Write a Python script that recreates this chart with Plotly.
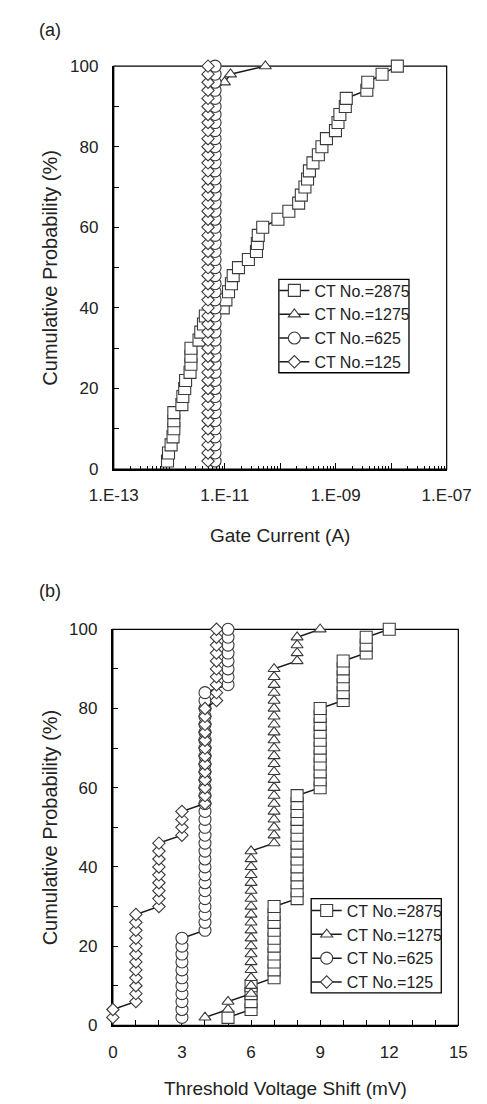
import plotly.graph_objects as go

# ---------------- data ----------------
series_names = ["CT No.=2875", "CT No.=1275", "CT No.=625", "CT No.=125"]

cum_prob = [2, 4, 6, 8, 10, 12, 14, 16, 18, 20, 22, 24, 26, 28, 30, 32, 34, 36, 38, 40,
            42, 44, 46, 48, 50, 52, 54, 56, 58, 60, 62, 64, 66, 68, 70, 72, 74, 76, 78, 80,
            82, 84, 86, 88, 90, 92, 94, 96, 98, 100]

# (a) gate current (A)
gate_2875 = [9.3e-13, 9.7e-13, 1.08e-12, 1.17e-12, 1.21e-12, 1.21e-12, 1.21e-12, 1.69e-12, 1.76e-12, 1.90e-12,
             1.97e-12, 2.37e-12, 2.46e-12, 2.46e-12, 2.46e-12, 3.44e-12, 3.70e-12, 4.14e-12, 4.47e-12, 9.4e-12,
             1.05e-11, 1.17e-11, 1.32e-11, 1.42e-11, 1.77e-11, 2.67e-11, 3.73e-11, 3.87e-11, 4.02e-11, 4.84e-11,
             9.1e-11, 1.43e-10, 2.15e-10, 2.40e-10, 2.79e-10, 3.11e-10, 3.36e-10, 3.89e-10, 4.87e-10, 5.65e-10,
             6.81e-10, 9.9e-10, 1.10e-9, 1.19e-9, 1.49e-9, 1.55e-9, 3.64e-9, 3.78e-9, 6.85e-9, 1.29e-8]
gate_1275 = [6.5e-12, 6.5e-12, 6.5e-12, 6.5e-12, 6.5e-12, 6.5e-12, 6.5e-12, 6.5e-12, 6.5e-12, 6.5e-12,
             6.5e-12, 6.5e-12, 6.5e-12, 6.5e-12, 6.5e-12, 6.5e-12, 6.5e-12, 6.5e-12, 6.5e-12, 6.5e-12,
             6.5e-12, 6.5e-12, 6.5e-12, 6.5e-12, 6.5e-12, 6.5e-12, 6.5e-12, 6.5e-12, 6.5e-12, 6.5e-12,
             6.5e-12, 6.5e-12, 6.5e-12, 6.5e-12, 6.5e-12, 6.5e-12, 6.5e-12, 6.5e-12, 6.5e-12, 6.5e-12,
             6.5e-12, 6.5e-12, 6.5e-12, 6.5e-12, 6.5e-12, 6.5e-12, 6.5e-12, 9.9e-12, 1.27e-11, 5.4e-11]
gate_625 = [6.7e-12, 6.7e-12, 6.7e-12, 6.7e-12, 6.7e-12, 6.7e-12, 6.7e-12, 6.7e-12, 6.7e-12, 6.7e-12,
            6.7e-12, 6.7e-12, 6.7e-12, 6.7e-12, 6.7e-12, 6.7e-12, 6.7e-12, 6.7e-12, 6.7e-12, 6.7e-12,
            6.7e-12, 6.7e-12, 6.7e-12, 6.7e-12, 6.7e-12, 6.7e-12, 6.7e-12, 6.7e-12, 6.7e-12, 6.7e-12,
            6.7e-12, 6.7e-12, 6.7e-12, 6.7e-12, 6.7e-12, 6.7e-12, 6.7e-12, 6.7e-12, 6.7e-12, 6.7e-12,
            6.7e-12, 6.7e-12, 6.7e-12, 6.7e-12, 6.7e-12, 6.7e-12, 6.7e-12, 6.7e-12, 6.7e-12, 6.7e-12]
gate_125 = [5.0e-12, 5.0e-12, 5.0e-12, 5.0e-12, 5.0e-12, 5.0e-12, 5.0e-12, 5.0e-12, 5.0e-12, 5.0e-12,
            5.0e-12, 5.0e-12, 5.0e-12, 5.0e-12, 5.0e-12, 5.0e-12, 5.0e-12, 5.0e-12, 5.0e-12, 5.0e-12,
            5.0e-12, 5.0e-12, 5.0e-12, 5.0e-12, 5.0e-12, 5.0e-12, 5.0e-12, 5.0e-12, 5.0e-12, 5.0e-12,
            5.0e-12, 5.0e-12, 5.0e-12, 5.0e-12, 5.0e-12, 5.0e-12, 5.0e-12, 5.0e-12, 5.0e-12, 5.0e-12,
            5.0e-12, 5.0e-12, 5.0e-12, 5.0e-12, 5.0e-12, 5.0e-12, 5.0e-12, 5.0e-12, 5.0e-12, 5.0e-12]

# (b) threshold voltage shift (mV)
vth_2875 = [5, 6, 6, 6, 6, 7, 7, 7, 7, 7, 7, 7, 7, 7, 7,
            8, 8, 8, 8, 8, 8, 8, 8, 8, 8, 8, 8, 8, 8,
            9, 9, 9, 9, 9, 9, 9, 9, 9, 9, 9,
            10, 10, 10, 10, 10, 10, 11, 11, 11, 12]
vth_1275 = [4, 5, 5, 6, 6, 6, 6, 6, 6, 6, 6, 6, 6, 6, 6, 6, 6, 6, 6, 6, 6, 6,
            7, 7, 7, 7, 7, 7, 7, 7, 7, 7, 7, 7, 7, 7, 7, 7, 7, 7, 7, 7, 7, 7, 7,
            8, 8, 8, 8, 9]
vth_625 = [3, 3, 3, 3, 3, 3, 3, 3, 3, 3, 3,
           4, 4, 4, 4, 4, 4, 4, 4, 4, 4, 4, 4, 4, 4, 4, 4, 4, 4, 4, 4, 4, 4, 4, 4, 4, 4, 4, 4, 4, 4, 4,
           5, 5, 5, 5, 5, 5, 5, 5]
vth_125 = [0, 0, 1, 1, 1, 1, 1, 1, 1, 1, 1, 1, 1, 1,
           2, 2, 2, 2, 2, 2, 2, 2, 2, 3, 3, 3, 3,
           4, 4, 4, 4, 4, 4, 4, 4, 4, 4, 4, 4, 4,
           4.5, 4.5, 4.5, 4.5, 4.5, 4.5, 4.5, 4.5, 4.5, 4.5]

gate_tickvals = [1e-13, 1e-12, 1e-11, 1e-10, 1e-9, 1e-8, 1e-7]
gate_ticktext = ["1.E-13", "", "1.E-11", "", "1.E-09", "", "1.E-07"]
vth_tickvals = [0, 3, 6, 9, 12, 15]
prob_tickvals = [0, 20, 40, 60, 80, 100]

# ---------------- styling ----------------
W, H = 487, 1104
FONT = "Liberation Sans, Arial, Helvetica, sans-serif"
TXT = "#222222"
symbols = ["square", "triangle-up", "circle", "diamond"]
sizes = [12, 10.5, 12, 9.5]
LINE = "#1a1a1a"
EDGE = "#3a3a3a"

fig = go.Figure()

gate_sets = [gate_2875, gate_1275, gate_625, gate_125]
vth_sets = [vth_2875, vth_1275, vth_625, vth_125]

for name, xs, sym, sz in zip(series_names, gate_sets, symbols, sizes):
    fig.add_trace(go.Scatter(
        x=xs, y=cum_prob, name=name, mode="lines+markers",
        xaxis="x", yaxis="y", legend="legend", cliponaxis=False,
        line=dict(color=LINE, width=1.5),
        marker=dict(symbol=sym, size=sz, color="white", line=dict(color=EDGE, width=1.1)),
    ))

for name, xs, sym, sz in zip(series_names, vth_sets, symbols, sizes):
    fig.add_trace(go.Scatter(
        x=xs, y=cum_prob, name=name, mode="lines+markers",
        xaxis="x2", yaxis="y2", legend="legend2", cliponaxis=False,
        line=dict(color=LINE, width=1.5),
        marker=dict(symbol=sym, size=sz, color="white", line=dict(color=EDGE, width=1.1)),
    ))

# pixel geometry
ax_a = dict(l=90, r=461, t=50, b=460)
ax_b = dict(l=89, r=474, t=623, b=1026)
leg_a = dict(l=274, r=419, t=267, b=362, row1=280)
leg_b = dict(l=310, r=455, t=897, b=993, row1=911)

def xd(a):
    return [a["l"] / W, a["r"] / W]

def yd(a):
    return [1 - a["b"] / H, 1 - a["t"] / H]

minor_log = [m * 10.0 ** e for e in range(-13, -7) for m in range(2, 10)]

common_axis = dict(showline=True, linecolor="black", linewidth=2, showgrid=False,
                   zeroline=False, ticks="inside", tickcolor="black", tickwidth=1.2,
                   layer="below traces",
                   tickfont=dict(family=FONT, size=17, color=TXT))

leg_common = dict(xanchor="left", yanchor="top", bgcolor="rgba(0,0,0,0)", borderwidth=0,
                  font=dict(family=FONT, size=16, color=TXT), tracegroupgap=0)

fig.update_layout(
    width=W, height=H,
    margin=dict(l=0, r=0, t=0, b=0),
    paper_bgcolor="white", plot_bgcolor="white",
    font=dict(family=FONT, color=TXT),
    xaxis=dict(type="log", range=[-13, -7], domain=xd(ax_a), anchor="y",
               tickmode="array", tickvals=gate_tickvals, ticktext=gate_ticktext, ticklen=6,
               ticklabelstandoff=10,
               minor=dict(tickmode="array", tickvals=minor_log, ticks="inside", ticklen=3,
                          tickcolor="black", showgrid=False),
               **common_axis),
    yaxis=dict(range=[0, 100], domain=yd(ax_a), anchor="x", tickmode="array",
               tickvals=prob_tickvals, ticklen=5, ticklabelstandoff=10,
               minor=dict(dtick=10, ticks="inside", ticklen=5, tickcolor="black", showgrid=False),
               **common_axis),
    xaxis2=dict(range=[0, 15], domain=xd(ax_b), anchor="y2", tickmode="array",
                tickvals=vth_tickvals, ticklen=5, ticklabelstandoff=10,
                minor=dict(dtick=1, ticks="inside", ticklen=5, tickcolor="black", showgrid=False),
                **common_axis),
    yaxis2=dict(range=[0, 100], domain=yd(ax_b), anchor="x2", tickmode="array",
                tickvals=prob_tickvals, ticklen=5, ticklabelstandoff=10,
                minor=dict(dtick=10, ticks="inside", ticklen=5, tickcolor="black", showgrid=False),
                **common_axis),
    legend=dict(x=(leg_a["l"] - 5) / W, y=1 - (leg_a["row1"] - 19) / H, **leg_common),
    legend2=dict(x=(leg_b["l"] - 5) / W, y=1 - (leg_b["row1"] - 19) / H, **leg_common),
    showlegend=True,
)

# frame (top/right thin borders)
for xr, yr in (("x domain", "y domain"), ("x2 domain", "y2 domain")):
    fig.add_shape(type="rect", xref=xr, yref=yr, x0=0, x1=1, y0=0, y1=1,
                  line=dict(color="black", width=1.2), layer="below")

# legend boxes
for lg in (leg_a, leg_b):
    fig.add_shape(type="rect", xref="paper", yref="paper",
                  x0=lg["l"] / W, x1=lg["r"] / W, y0=1 - lg["b"] / H, y1=1 - lg["t"] / H,
                  line=dict(color="black", width=1.3), fillcolor="white", layer="above")

def ann(text, x, y, size, angle=0, xanchor="center"):
    fig.add_annotation(text=text, x=x / W, y=1 - y / H, xref="paper", yref="paper",
                       showarrow=False, textangle=angle, xanchor=xanchor, yanchor="middle",
                       font=dict(family=FONT, size=size, color=TXT))

ann("(a)", 4, 13, 18, xanchor="left")
ann("(b)", 4, 584, 18, xanchor="left")
ann("Gate Current (A)", (ax_a["l"] + ax_a["r"]) / 2, 528, 19)
ann("Threshold Voltage Shift (mV)", (ax_b["l"] + ax_b["r"]) / 2, 1090, 19)
ann("Cumulative Probability (%)", 19, (ax_a["t"] + ax_a["b"]) / 2, 20, angle=-90)
ann("Cumulative Probability (%)", 19, (ax_b["t"] + ax_b["b"]) / 2, 20, angle=-90)

fig.write_html("out.html")
